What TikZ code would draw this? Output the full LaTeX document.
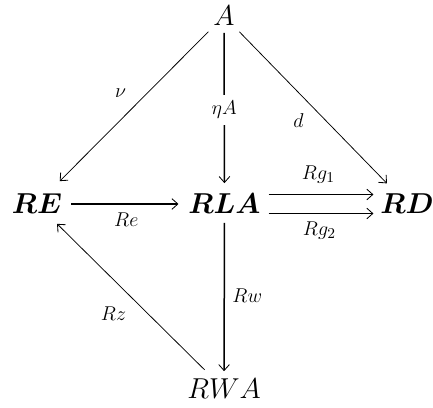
\documentclass[tikz,border=0pt]{standalone}
\usepackage{amsmath,bm}
\usetikzlibrary{arrows.meta}
\begin{document}
\begin{tikzpicture}[x=0.6pt,y=-0.6pt,
  obj/.style={inner sep=0pt,outer sep=0pt,font=\LARGE},
  lab/.style={inner sep=1pt,font=\fontsize{12.8}{15}\selectfont},
  tip/.style={-{Straight Barb[length=3.6pt,width=6.4pt,line width=0.5pt]}},
  thk/.style={tip,line width=0.9pt},
  thn/.style={tip,line width=0.45pt}]
\useasboundingbox (0,0) rectangle (433,407);
\node[obj] (A) at (224,16) {$A$};
\node[obj] (RE) at (37,204) {$\bm{RE}$};
\node[obj] (RLA) at (224.5,204) {$\bm{RLA}$};
\node[obj] (RD) at (407,204) {$\bm{RD}$};
\node[obj] (RWA) at (224,389) {$RWA$};
% A -> RE
\draw[thn,shorten <=5pt,shorten >=11pt] (A) -- node[lab,midway,shift={(-10,-17)}] {$\nu$} (RE);
% A -> RD
\draw[thn,shorten <=5pt,shorten >=9pt] (A) -- node[lab,midway,shift={(-17,11)}] {$d$} (RD);
% A -> RLA
\draw[thk,shorten <=4.2pt,shorten >=6.6pt] (A) -- node[lab,midway,fill=white,inner xsep=2pt,inner ysep=3.5pt] {$\eta A$} (RLA);
% RE -> RLA
\draw[thk,shorten <=5.4pt,shorten >=6pt] (RE) -- node[lab,midway,shift={(1,16)}] {$Re$} (RLA);
% RLA => RD
\draw[thk,shorten <=4.8pt,shorten >=4.2pt] ([yshift=5.7pt]RLA.east) -- node[lab,midway,shift={(-2,-20)}] {$Rg_1$} ([yshift=5.7pt]RD.west);
\draw[thk,shorten <=4.8pt,shorten >=4.2pt] ([yshift=-5.7pt]RLA.east) -- node[lab,midway,shift={(-1,17)}] {$Rg_2$} ([yshift=-5.7pt]RD.west);
% RLA -> RWA
\draw[thk,shorten <=5.4pt,shorten >=4.8pt] (RLA) -- node[lab,midway,shift={(23,-1)}] {$Rw$} (RWA);
% RWA -> RE
\draw[thn,shorten <=8pt,shorten >=8.5pt] (RWA) -- node[lab,midway,shift={(-17,17)}] {$Rz$} (RE);
\end{tikzpicture}
\end{document}
